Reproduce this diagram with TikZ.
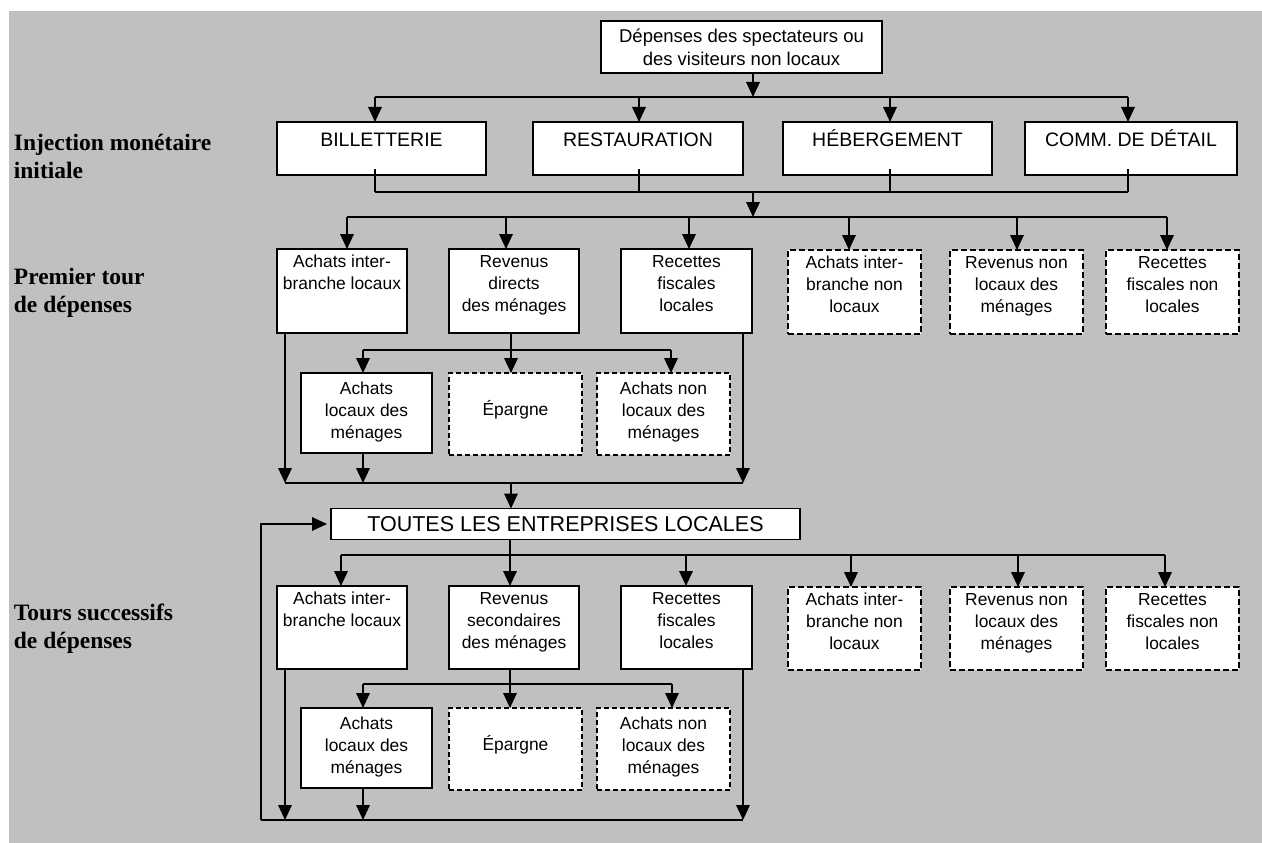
\documentclass[tikz,border=0pt]{standalone}
\usepackage{fontspec}
\setmainfont{Liberation Sans}
\newfontfamily\lblserif{Liberation Serif}
\usetikzlibrary{arrows.meta,calc}
\definecolor{bgc}{RGB}{192,192,192}
\newcommand\bx[8]{\node[#2,anchor=north west] (#1) at (#3,#4) {\parbox[c][#6pt][t]{#5pt}{\centering\rule{0pt}{#7pt}#8\par}};}
\begin{document}
\begin{tikzpicture}[x=1pt,y=-1pt,line width=1.8pt,
  box/.style={draw=black,fill=white,line width=1.8pt,inner sep=0pt,outer sep=0pt},
  dboxthick/.style={box,line width=2.6pt,dash pattern=on 6pt off 3pt,preaction={draw=white,line width=2.6pt}},
  dboxthin/.style={box,line width=1.3pt,dash pattern=on 5pt off 3pt,preaction={draw=white,line width=1.3pt}},
  sfont/.style={font=\fontsize{17.4}{22.2}\selectfont},
  rfont/.style={font=\fontsize{19.5}{23}\selectfont},
  tfont/.style={font=\fontsize{18.5}{23}\selectfont},
  lab/.style={font=\lblserif\bfseries\fontsize{23.5}{28}\selectfont,align=left,anchor=west,inner sep=0pt},
  arr/.style={-{Triangle[length=15pt,width=13.5pt]}}]
\useasboundingbox (0,0) rectangle (1262,843);
\fill[bgc] (9,11) rectangle (1262,843);

% left labels
\node[lab] (l1) at (13,156) {Injection monétaire\\initiale};
\node[lab] (l2) at (13,293) {Premier tour\\de dépenses};
\node[lab] (l3) at (13,629) {Tours successifs\\de dépenses};

% top box
\bx{top}{box,tfont}{601}{21}{281}{52}{22}{Dépenses des spectateurs ou\\des visiteurs non locaux}

% row 1
\bx{bil}{box,rfont}{277}{122}{209}{53}{24}{BILLETTERIE}
\bx{res}{box,rfont}{533}{122}{210}{53}{24}{RESTAURATION}
\bx{heb}{box,rfont}{783}{122}{209}{53}{24}{HÉBERGEMENT}
\bx{com}{box,rfont}{1025}{122}{212}{53}{24}{COMM. DE DÉTAIL}

% row 2 (first round)
\bx{a1}{box,sfont}{277}{249}{130}{84}{18.5}{Achats inter-\\branche locaux}
\bx{a2}{box,sfont}{449}{249}{130}{84}{18.5}{Revenus\\directs\\des ménages}
\bx{a3}{box,sfont}{621}{249}{131}{84}{18.5}{Recettes\\fiscales\\locales}
\bx{a4}{dboxthick,sfont}{788}{250}{133}{84}{18.5}{Achats inter-\\branche non\\locaux}
\bx{a5}{dboxthick,sfont}{950}{250}{133}{84}{18.5}{Revenus non\\locaux des\\ménages}
\bx{a6}{dboxthick,sfont}{1106}{250}{133}{84}{18.5}{Recettes\\fiscales non\\locales}

\bx{b1}{box,sfont}{301}{373}{131}{80}{21}{Achats\\locaux des\\ménages}
\bx{b2}{dboxthin,sfont}{449}{373}{133}{82}{42}{Épargne}
\bx{b3}{dboxthin,sfont}{597}{373}{133}{82}{21}{Achats non\\locaux des\\ménages}

% all local firms
\node[box,font=\fontsize{21.5}{24}\selectfont,minimum width=469pt,minimum height=31pt] (tout) at (565.5,524) {TOUTES LES ENTREPRISES LOCALES};

% row 2 (successive rounds)
\bx{c1}{box,sfont}{277}{586}{130}{83}{18.5}{Achats inter-\\branche locaux}
\bx{c2}{box,sfont}{449}{586}{130}{83}{18.5}{Revenus\\secondaires\\des ménages}
\bx{c3}{box,sfont}{621}{586}{131}{83}{18.5}{Recettes\\fiscales\\locales}
\bx{c4}{dboxthick,sfont}{788}{587}{133}{83}{18.5}{Achats inter-\\branche non\\locaux}
\bx{c5}{dboxthick,sfont}{950}{587}{133}{83}{18.5}{Revenus non\\locaux des\\ménages}
\bx{c6}{dboxthick,sfont}{1106}{587}{133}{83}{18.5}{Recettes\\fiscales non\\locales}

\bx{g1}{box,sfont}{301}{708}{131}{80}{21}{Achats\\locaux des\\ménages}
\bx{g2}{dboxthin,sfont}{449}{708}{133}{82}{42}{Épargne}
\bx{g3}{dboxthin,sfont}{597}{708}{133}{82}{21}{Achats non\\locaux des\\ménages}

% ---- connectors: top to row 1
\coordinate (ta) at (753,97);
\coordinate (tl) at (375,97);
\coordinate (tb) at (639,97);
\coordinate (tc) at (890,97);
\coordinate (tr) at (1128,97);
\draw[arr] (top.south -| ta) -- (ta);
\draw (tl) -- (tr);
\draw[arr] (tl) -- (bil.north -| tl);
\draw[arr] (tb) -- (res.north -| tb);
\draw[arr] (tc) -- (heb.north -| tc);
\draw[arr] (tr) -- (com.north -| tr);

% row 1 to distribution
\coordinate (cl) at (375,192);
\coordinate (cb) at (639,192);
\coordinate (cc) at (890,192);
\coordinate (cr) at (1128,192);
\coordinate (cm) at (753,192);
\draw ($(bil.south -| cl)+(0,-6)$) -- (cl);
\draw ($(res.south -| cb)+(0,-6)$) -- (cb);
\draw ($(heb.south -| cc)+(0,-6)$) -- (cc);
\draw ($(com.south -| cr)+(0,-6)$) -- (cr);
\draw (cl) -- (cr);
\coordinate (dm) at (753,217);
\draw[arr] (cm) -- (dm);
\coordinate (d1) at (347,217);
\coordinate (d2) at (506,217);
\coordinate (d3) at (689,217);
\coordinate (d4) at (849,217);
\coordinate (d5) at (1017,217);
\coordinate (d6) at (1167,217);
\draw (d1) -- (d6);
\draw[arr] (d1) -- (a1.north -| d1);
\draw[arr] (d2) -- (a2.north -| d2);
\draw[arr] (d3) -- (a3.north -| d3);
\draw[arr] (d4) -- (a4.north -| d4);
\draw[arr] (d5) -- (a5.north -| d5);
\draw[arr] (d6) -- (a6.north -| d6);

% household split (first round)
\coordinate (s1) at (363,350);
\coordinate (s2) at (511,350);
\coordinate (s3) at (671,350);
\draw (a2.south -| s2) -- (s2);
\draw (s1) -- (s3);
\draw[arr] (s1) -- (b1.north -| s1);
\draw[arr] (s2) -- (b2.north -| s2);
\draw[arr] (s3) -- (b3.north -| s3);

% collecting to all local firms
\coordinate (k1) at (285,483);
\coordinate (k2) at (363,483);
\coordinate (k3) at (743,483);
\coordinate (km) at (511,483);
\draw[arr] (a1.south -| k1) -- (k1);
\draw[arr] (b1.south -| k2) -- (k2);
\draw[arr] (a3.south -| k3) -- (k3);
\draw (k1) -- (k3);
\draw[arr] (km) -- (tout.north -| km);

% all local firms to successive round
\coordinate (e0) at (510,555);
\coordinate (e1) at (341,555);
\coordinate (e3) at (686,555);
\coordinate (e4) at (851,555);
\coordinate (e5) at (1018,555);
\coordinate (e6) at (1165,555);
\draw (tout.south -| e0) -- (e0);
\draw (e1) -- (e6);
\draw[arr] (e1) -- (c1.north -| e1);
\draw[arr] (e0) -- (c2.north -| e0);
\draw[arr] (e3) -- (c3.north -| e3);
\draw[arr] (e4) -- (c4.north -| e4);
\draw[arr] (e5) -- (c5.north -| e5);
\draw[arr] (e6) -- (c6.north -| e6);

% household split (successive rounds)
\coordinate (h1) at (363,684);
\coordinate (h2) at (510,684);
\coordinate (h3) at (672,684);
\draw (c2.south -| h2) -- (h2);
\draw (h1) -- (h3);
\draw[arr] (h1) -- (g1.north -| h1);
\draw[arr] (h2) -- (g2.north -| h2);
\draw[arr] (h3) -- (g3.north -| h3);

% bottom collecting and feedback loop
\coordinate (q1) at (285,820);
\coordinate (q2) at (363,820);
\coordinate (q3) at (743,820);
\coordinate (fb) at (261,820);
\draw[arr] (c1.south -| q1) -- (q1);
\draw[arr] (g1.south -| q2) -- (q2);
\draw[arr] (c3.south -| q3) -- (q3);
\draw (fb) -- (q3);
\draw[arr,shorten >=4pt] (fb) |- (tout.west);
\end{tikzpicture}
\end{document}
